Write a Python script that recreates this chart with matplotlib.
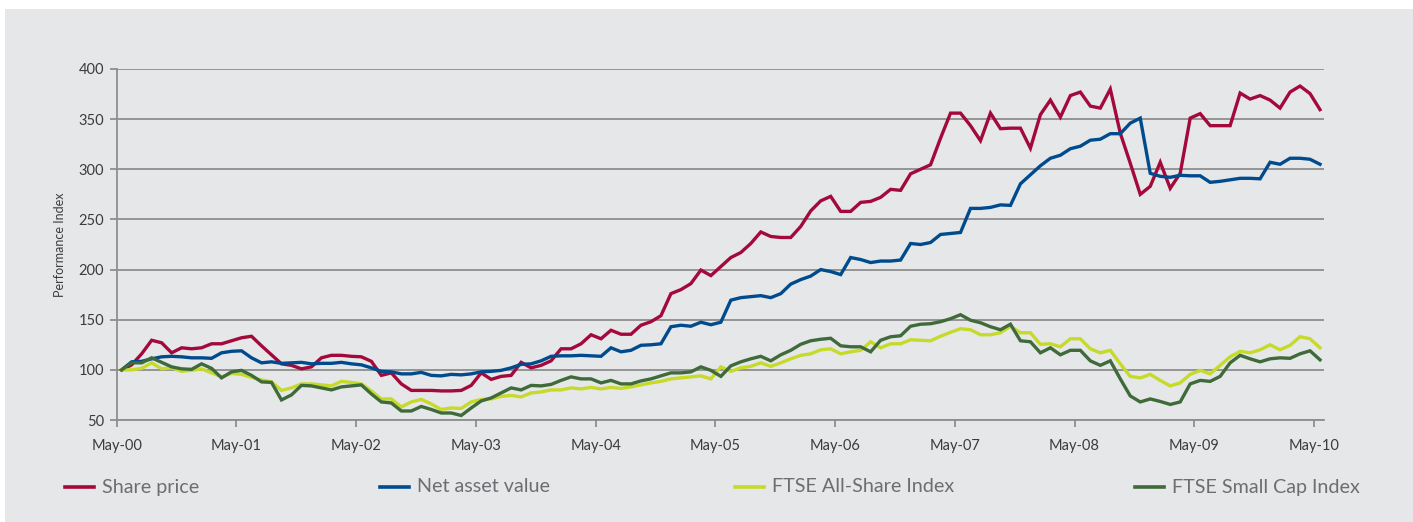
import matplotlib
matplotlib.use("Agg")
import matplotlib.pyplot as plt
from matplotlib.lines import Line2D
from matplotlib.patches import Rectangle
import numpy as np

plt.rcParams['font.family'] = ['Lato', 'DejaVu Sans']

# monthly performance index, May-00 .. May-10 (rebased to 100)
share_price = [
    100, 105, 116, 129.5, 127, 117, 122, 121, 122, 126, 126, 129, 132, 133.5, 124, 115,
    106, 104.5, 101, 103, 112, 114.5, 114.5, 113.5, 113, 108.5, 94.5, 97, 86, 79.5, 79.5, 79.5,
    79, 79, 79.5, 84.5, 97, 90.5, 93.5, 94.5, 107.5, 102, 104.5, 109, 121, 121, 126, 135,
    131, 139.5, 135.5, 135.5, 144.5, 148, 154, 176, 180, 186, 199.5, 194, 203, 212, 217, 226,
    237.5, 233, 232, 232, 243, 258.5, 268.5, 273, 258, 258, 267, 268, 272, 280, 279, 295.5,
    300, 304.5, 331, 356, 356, 343.5, 328.5, 356, 340.5, 341, 341, 321, 354.5, 369, 352, 373.5,
    377, 363, 361, 380, 336, 306, 275, 283, 307, 281, 296, 351, 355.5, 343.5, 343.5, 343.5,
    376, 370, 373.5, 369, 361, 377, 383, 375.5, 359.5,
]
nav = [
    100, 108, 108.5, 111, 113, 113.5, 113, 112, 112, 111.5, 117, 118.5, 119, 112, 107, 108,
    106.5, 107, 107.5, 106, 106.5, 106.5, 107.5, 106, 105, 102, 98.5, 98, 96, 96, 97.5, 94.5,
    94, 95.5, 95, 96, 98, 98.5, 99.5, 102, 105.5, 106, 109, 113.5, 114, 114, 114.5, 114,
    113.5, 122, 118, 119.5, 124.5, 125, 126, 143, 144.5, 143.5, 147.5, 145, 147.5, 169.5, 172, 173,
    174, 172, 176, 185.5, 190, 193.5, 200, 198, 195, 212, 210, 207, 208.5, 208.5, 209.5, 226,
    225, 227, 235, 236, 237, 261, 261, 262, 264.5, 264, 285.5, 294.5, 303.5, 311, 314, 320.5,
    323, 329, 330, 335.5, 335.5, 346, 351, 296, 293, 292, 294, 293.5, 293.5, 287, 288, 289.5,
    291, 291, 290.5, 307, 305, 311, 311, 310, 305,
]
ftse_all_share = [
    100, 100, 101.5, 107, 101, 102, 98.5, 99.5, 101, 97, 93, 96.5, 95.5, 92.5, 90, 88,
    79.5, 82, 86, 86, 85, 84, 88.5, 87.5, 86, 79, 71, 71, 63, 68, 70.5, 66,
    60.5, 62, 61.5, 68, 70.5, 71, 73.5, 74.5, 73, 77, 78, 80, 80, 82, 81, 82.5,
    81, 82.5, 81.5, 83, 85, 87, 88.5, 91, 92, 93, 94, 91, 103, 98.5, 102, 103.5,
    107, 103.5, 107, 111, 114.5, 116, 120, 121, 116, 118, 119.5, 128, 122, 126, 126, 130,
    129.5, 129, 133.5, 137.5, 141, 140, 135, 135, 137, 143.5, 137, 137, 125.5, 126, 123, 131,
    131, 121, 117, 119.5, 106, 93.5, 92, 95.5, 89.5, 84, 87, 95.5, 99.5, 96, 104.5, 113,
    118.5, 117, 120, 125, 120, 124.5, 133, 131, 122,
]
ftse_small_cap = [
    100, 107, 107, 112, 107.5, 103, 101, 100.5, 106, 101.5, 92, 98, 99.5, 94.5, 88, 87.5,
    70, 75, 84.5, 84, 82, 80, 83, 84, 85, 76, 68, 67, 59, 59, 63.5, 60.5,
    57, 57, 54.5, 62, 69, 72, 77, 82, 80, 84.5, 84, 85.5, 89.5, 93, 91, 91,
    87, 89.5, 86, 86, 89, 91, 94, 97, 97, 98, 103, 99.5, 93.5, 104, 108, 111,
    113.5, 109, 115, 119.5, 125.5, 129, 130.5, 131.5, 124, 123, 123, 118, 129.5, 133, 134, 143.5,
    145.5, 146, 148, 151, 155, 149.5, 147, 143, 140, 145.5, 129, 128, 117, 122, 115, 119.5,
    119.5, 109, 104.5, 109, 91, 74, 68, 71, 68.5, 65.5, 68, 86, 89.5, 88.5, 93.5, 107,
    114.5, 111, 108, 111, 112, 111.5, 116, 119, 110,
]

tick_labels = ["May-00", "May-01", "May-02", "May-03", "May-04", "May-05",
               "May-06", "May-07", "May-08", "May-09", "May-10"]
series_names = ["Share price", "Net asset value", "FTSE All-Share Index", "FTSE Small Cap Index"]
series_colors = ["#a3093b", "#004b8d", "#c6da2a", "#3f6a3a"]

bg = "#e6e7e9"
grid_c = "#8e8e8e"

fig = plt.figure(figsize=(14.13, 5.22), dpi=100, facecolor="white")
fig.add_artist(Rectangle((5 / 1413, 0), 1 - 5 / 1413, 1 - 9 / 522,
                         transform=fig.transFigure, facecolor=bg, edgecolor="none", zorder=0))

ax = fig.add_axes([116.7 / 1413, 1 - 420 / 522, (1324 - 116.7) / 1413, (420 - 69) / 522])
ax.set_facecolor(bg)
ax.patch.set_alpha(0)

months = np.arange(len(share_price))
for vals, c in zip([share_price, nav, ftse_all_share, ftse_small_cap], series_colors):
    ax.plot(months, vals, color=c, lw=2.4, solid_joinstyle="miter", zorder=3)

ax.set_xlim(-0.5, 120.4)
ax.set_ylim(50, 400)
ax.set_yticks(np.arange(50, 401, 50))
ax.set_xticks(np.arange(len(tick_labels)) * 11.99 - 0.5)
ax.set_xticklabels(tick_labels)
ax.yaxis.grid(True, color=grid_c, lw=1.3)
ax.set_axisbelow(True)
for s in ["top", "right"]:
    ax.spines[s].set_visible(False)
for s in ["left", "bottom"]:
    ax.spines[s].set_color(grid_c)
    ax.spines[s].set_linewidth(1.3)
ax.tick_params(axis="both", colors=grid_c, length=5, width=1.3, labelcolor="#3c3c3c",
               labelsize=10.5)
ax.tick_params(axis="x", pad=9)
ax.tick_params(axis="y", pad=4)
ax.set_ylabel("Performance Index", fontsize=9, color="#3c3c3c", labelpad=9)

# legend row under the chart
leg_x = [65, 380, 735, 1135]
for x0, name, c in zip(leg_x, series_names, series_colors):
    fig.add_artist(Line2D([x0 / 1413, (x0 + 29) / 1413], [1 - 487 / 522] * 2,
                          transform=fig.transFigure, color=c, lw=2.6))
    fig.text((x0 + 37) / 1413, 1 - 487 / 522, name, fontsize=14.2, color="#6d6e71",
             va="center", ha="left")

fig.savefig("out.png", dpi=100, facecolor="white")
